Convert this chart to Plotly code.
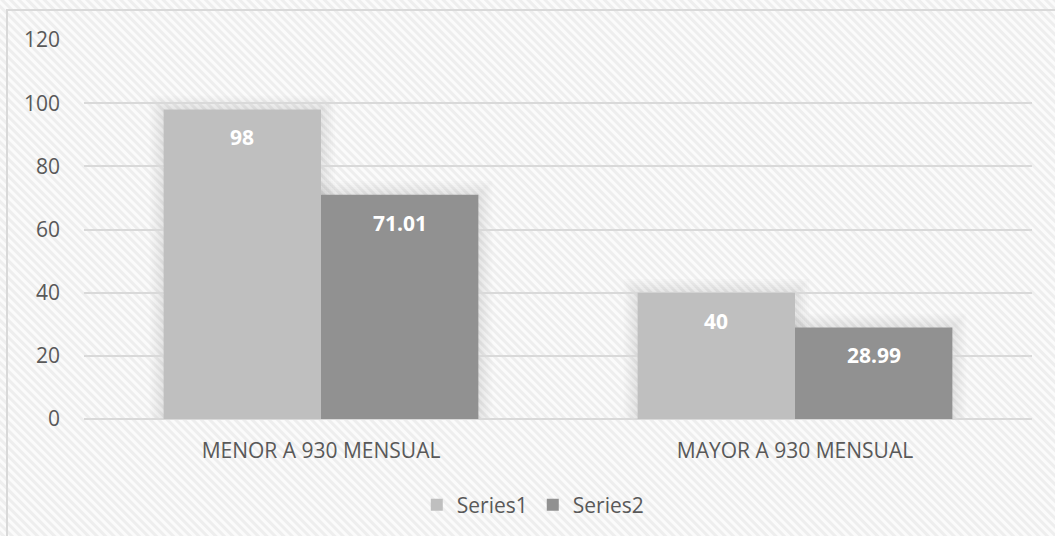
import base64
import plotly.graph_objects as go

# ---- data ----
categories = ["MENOR A 930 MENSUAL", "MAYOR A 930 MENSUAL"]
series1 = [98, 40]
series2 = [71.01, 28.99]
series_names = ["Series1", "Series2"]
label1 = ["98", "40"]
label2 = ["71.01", "28.99"]
y_ticks = [0, 20, 40, 60, 80, 100, 120]

# ---- layout geometry ----
W, H = 1055, 536
ML, MR, MT, MB = 84, 23, 40, 117
PW, PH = W - ML - MR, H - MT - MB
BARGAP = 0.336
FONT = "Open Sans"
TXT = "#595959"
C1, C2 = "#bfbfbf", "#919191"
YMAX = 120

fig = go.Figure()
fig.add_trace(go.Bar(x=categories, y=series1, name=series_names[0],
                     marker=dict(color=C1, line=dict(width=0)), hoverinfo="skip"))
fig.add_trace(go.Bar(x=categories, y=series2, name=series_names[1],
                     marker=dict(color=C2, line=dict(width=0)), hoverinfo="skip"))

# data labels inside, near the top of each bar
off = (1 - BARGAP) / 4
for i, (v, t) in enumerate(zip(series1, label1)):
    fig.add_annotation(x=i - off, y=v, text=t, showarrow=False, yshift=-28,
                       font=dict(family=FONT, size=21, color="white", weight="bold"))
for i, (v, t) in enumerate(zip(series2, label2)):
    fig.add_annotation(x=i + off, y=v, text=t, showarrow=False, yshift=-28,
                       font=dict(family=FONT, size=21, color="white", weight="bold"))

# soft shadow around bars
xu = (len(categories)) / PW   # category units per pixel
yu = YMAX / PH                # data units per pixel
for pad in (2, 4, 6, 8, 10, 12, 14):
    for i in range(len(categories)):
        for v, x0, x1 in ((series1[i], i - 2 * off, i), (series2[i], i, i + 2 * off)):
            fig.add_shape(type="rect", xref="x", yref="y",
                          x0=x0 - pad * xu, x1=x1 + pad * xu, y0=0, y1=v + pad * yu,
                          fillcolor="rgba(0,0,0,0.011)", line=dict(width=0), layer="below")

# striped background via svg image
svg = f'''<svg xmlns="http://www.w3.org/2000/svg" width="{W}" height="{H}">
<defs><pattern id="p" patternUnits="userSpaceOnUse" width="6" height="6" patternTransform="rotate(-45)">
<rect width="6" height="6" fill="#fbfbfb"/><rect width="3" height="6" fill="#eeeeee"/></pattern></defs>
<rect width="{W}" height="{H}" fill="url(#p)"/></svg>'''
uri = "data:image/svg+xml;base64," + base64.b64encode(svg.encode()).decode()
fig.add_layout_image(source=uri, xref="paper", yref="paper",
                     x=-ML / PW, y=1 + MT / PH, sizex=W / PW, sizey=H / PH,
                     xanchor="left", yanchor="top", sizing="stretch", layer="below")

# chart border
fig.add_shape(type="rect", xref="paper", yref="paper",
              x0=(7 - ML) / PW, x1=(W + 10 - ML) / PW,
              y0=1 - (H + 10 - MT) / PH, y1=1 + (MT - 10) / PH,
              line=dict(color="#d9d9d9", width=2), fillcolor="rgba(0,0,0,0)", layer="below")

fig.update_layout(
    width=W, height=H,
    margin=dict(l=ML, r=MR, t=MT, b=MB),
    paper_bgcolor="white", plot_bgcolor="rgba(0,0,0,0)",
    barmode="group", bargap=BARGAP, bargroupgap=0,
    font=dict(family=FONT, size=21, color=TXT),
    showlegend=True,
    legend=dict(orientation="h", xref="container", yref="container",
                x=0.505, y=1 - 505 / H, xanchor="center", yanchor="middle",
                font=dict(family=FONT, size=21, color=TXT),
                bgcolor="rgba(0,0,0,0)", itemclick=False),
    xaxis=dict(showgrid=False, showline=False, zeroline=False, ticks="",
               tickfont=dict(family=FONT, size=21, color=TXT), ticklabelstandoff=17),
    yaxis=dict(range=[0, YMAX], tickvals=y_ticks, showgrid=True, gridcolor="#d9d9d9",
               gridwidth=2, zeroline=True, zerolinecolor="#d9d9d9", zerolinewidth=2,
               showline=False, ticks="", ticklabelstandoff=23,
               tickfont=dict(family=FONT, size=21, color=TXT)),
)

fig.write_html("out.html", config={"displayModeBar": False},
               post_script="document.body.style.margin='0';document.body.style.overflow='hidden';")
